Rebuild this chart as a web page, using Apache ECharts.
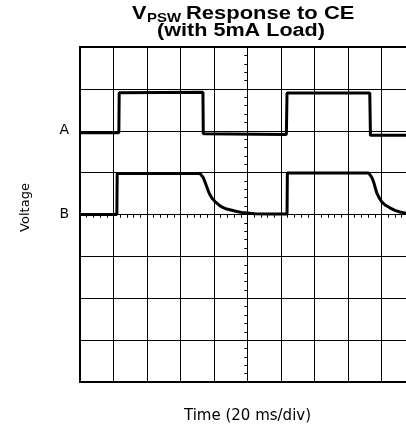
<!DOCTYPE html>
<html>
<head>
<meta charset="utf-8">
<script src="https://cdn.jsdelivr.net/npm/echarts@6/dist/echarts.min.js"></script>
<style>
  html, body { margin: 0; padding: 0; background: #fff; }
  #chart { width: 406px; height: 429px; }
</style>
</head>
<body>
<div id="chart"></div>
<script>
/* time in divisions from screen centre, voltage in divisions from centre */
var timeA = [-5, -3.84, -3.83, -1.33, -1.32, 1.16, 1.18, 3.65, 3.67, 5];
var voltA = [1.95, 1.95, 2.91, 2.92, 1.93, 1.91, 2.90, 2.90, 1.89, 1.89];

var timeB = [-5, -3.90, -3.89, -1.42, -1.37, -1.32, -1.27, -1.22, -1.17, -1.12, -1.05, -0.97, -0.87,
  -0.77, -0.62, -0.47, -0.32, -0.17, 0.22, 0.70, 1.18, 1.19,
  3.62, 3.66, 3.70, 3.74, 3.78, 3.82, 3.86, 3.93, 4.00, 4.12, 4.25, 4.40, 4.55, 4.73, 5];
var voltB = [0, 0, 0.98, 0.98, 0.95, 0.88, 0.78, 0.67, 0.56, 0.47, 0.38, 0.31, 0.24,
  0.18, 0.13, 0.10, 0.07, 0.05, 0.02, 0.01, 0.01, 0.99,
  0.99, 0.96, 0.90, 0.83, 0.74, 0.62, 0.51, 0.40, 0.31, 0.22, 0.16, 0.10, 0.06, 0.03, 0.01];

var traceLabels = { 2: 'A', 0: 'B' };

function zip(xs, ys) {
  var out = [];
  for (var i = 0; i < xs.length; i++) out.push([xs[i], ys[i]]);
  return out;
}

var chart = echarts.init(document.getElementById('chart'), null, { renderer: 'canvas' });

var axisFont = 'DejaVu Sans';
var titleFont = 'Liberation Sans';

function centreX(inside) {
  return {
    type: 'value', min: -5, max: 5, interval: 1,
    axisLine: { show: !inside, onZero: true, onZeroAxisIndex: 0, lineStyle: { color: '#000', width: 1 } },
    axisTick: { show: true, inside: inside, length: 3, lineStyle: { color: '#000' } },
    minorTick: { show: true, splitNumber: 5, length: 3, lineStyle: { color: '#000' } },
    axisLabel: { show: false },
    splitLine: { show: !inside, lineStyle: { color: '#000', width: 1 } }
  };
}
function centreY(inside) {
  return {
    type: 'value', min: -4, max: 4, interval: 1,
    axisLine: { show: !inside, onZero: true, onZeroAxisIndex: 0, lineStyle: { color: '#000', width: 1 } },
    axisTick: { show: true, inside: inside, length: 3, lineStyle: { color: '#000' } },
    minorTick: { show: true, splitNumber: 5, length: 3, lineStyle: { color: '#000' } },
    axisLabel: { show: false },
    splitLine: { show: !inside, lineStyle: { color: '#000', width: 1 } }
  };
}

var option = {
  animation: false,
  backgroundColor: '#fff',
  grid: {
    left: 80, top: 47, width: 335, height: 335,
    outerBoundsMode: 'none', containLabel: false,
    show: true, borderColor: '#000', borderWidth: 2
  },
  graphic: [
    { type: 'text', x: 132, y: 14.5, scaleX: 1.2,
      style: { text: 'V', font: 'bold 18px ' + titleFont, fill: '#000', align: 'left', verticalAlign: 'middle' } },
    { type: 'text', x: 147, y: 18.5, scaleX: 1.15,
      style: { text: 'PSW', font: 'bold 13px ' + titleFont, fill: '#000', align: 'left', verticalAlign: 'middle' } },
    { type: 'text', x: 186, y: 14.5, scaleX: 1.22,
      style: { text: 'Response to CE', font: 'bold 18px ' + titleFont, fill: '#000', align: 'left', verticalAlign: 'middle' } },
    { type: 'text', x: 241, y: 31, scaleX: 1.2,
      style: { text: '(with 5mA Load)', font: 'bold 18px ' + titleFont, fill: '#000', align: 'center', verticalAlign: 'middle' } }
  ],
  xAxis: [
    centreX(false),
    centreX(true),
    {
      type: 'value', min: -5, max: 5, position: 'bottom',
      axisLine: { show: false, onZero: false },
      axisTick: { show: false }, axisLabel: { show: false }, splitLine: { show: false },
      name: 'Time (20 ms/div)', nameLocation: 'middle', nameGap: 27,
      nameTextStyle: { fontFamily: axisFont, fontSize: 15, color: '#000' }
    }
  ],
  yAxis: [
    centreY(false),
    centreY(true),
    {
      type: 'value', min: -4, max: 4, interval: 1, position: 'left',
      axisLine: { show: false, onZero: false },
      axisTick: { show: false }, splitLine: { show: false },
      axisLabel: {
        show: true, margin: 11, fontFamily: axisFont, fontSize: 14, color: '#000',
        formatter: function (v) { return traceLabels[v] || ''; }
      },
      name: 'Voltage', nameLocation: 'middle', nameGap: 48, nameRotate: 90,
      nameTextStyle: { fontFamily: axisFont, fontSize: 13, color: '#000', padding: [0, 0, 0, 14] }
    }
  ],
  series: [
    {
      name: 'A', type: 'line', xAxisIndex: 0, yAxisIndex: 0,
      data: zip(timeA, voltA), showSymbol: false, symbol: 'none',
      lineStyle: { color: '#000', width: 3 }
    },
    {
      name: 'B', type: 'line', xAxisIndex: 0, yAxisIndex: 0,
      data: zip(timeB, voltB), showSymbol: false, symbol: 'none',
      lineStyle: { color: '#000', width: 3 }
    }
  ]
};

chart.setOption(option);
</script>
</body>
</html>
